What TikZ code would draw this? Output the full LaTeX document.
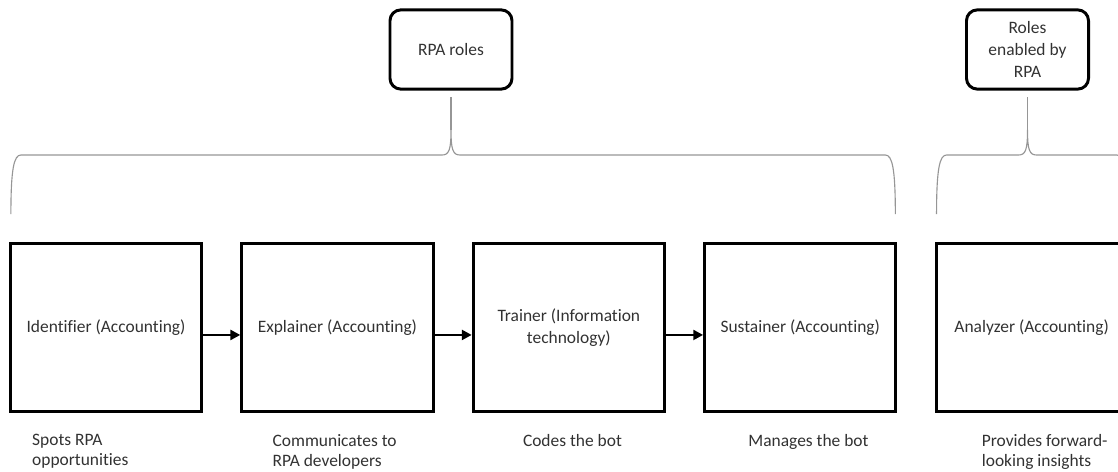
\documentclass[tikz,border=0pt]{standalone}
\usepackage{fontspec}
\setmainfont{Carlito}[Ligatures=NoCommon]
\usepackage{tikz}
\usetikzlibrary{arrows.meta,positioning,calc}
\definecolor{textgray}{RGB}{50,50,50}
\definecolor{bracegray}{RGB}{150,150,150}

% brace from the top of box #1 to the top of box #2, tip under box #3
\newcommand{\rolebrace}[3]{%
  \coordinate (bl) at ($(#1.north west)+(2,-28)$);
  \coordinate (br) at ($(#2.north east)+(-2,-28)$);
  \coordinate (bt) at ($(#3.south)+(0,6)$);
  \coordinate (bh) at ($(bl)+(0,-59)$);
  \coordinate (tm) at (bt |- bh);
  \coordinate (rh) at (br |- bh);
  \draw[brc] (bl) .. controls +(0,-45) and +(-7,0) .. ($(bh)+(10,0)$)
    -- ($(tm)+(-9,0)$) .. controls +(7,0) and +(0,20) .. ($(tm)+(0,-25)$)
    .. controls +(0,20) and +(-7,0) .. ($(tm)+(9,0)$)
    -- ($(rh)+(-10,0)$) .. controls +(7,0) and +(0,-45) .. (br);
  \draw[brc] ($(tm)+(0,-25)$) -- (bt);
}

\begin{document}
\begin{tikzpicture}[
        x=0.025cm,y=-0.025cm,
        node distance=0.93cm,
        font=\fontsize{12.4}{15.5}\selectfont,
        box/.style={draw,line width=2.1pt,minimum width=4.78cm,
                    minimum height=4.2cm,align=center,text=textgray,
                    inner sep=2pt},
        rbox/.style={draw,line width=2.1pt,rounded corners=0.27cm,
                     minimum width=3.05cm,minimum height=1.98cm,
                     align=center,text=textgray},
        arr/.style={-{Triangle[length=7pt,width=7pt]},line width=1.8pt},
        lbl/.style={anchor=north west,align=left,text=textgray,inner sep=0pt,
                    font=\fontsize{12.4}{14.4}\selectfont},
        brc/.style={bracegray,line width=0.8pt},
      ]
        \useasboundingbox (0,0) rectangle (1118,472);
        % role boxes
        \node[box] at (106,327.5) (id){Identifier (Accounting)};
        \node[box,right=of id](ex){Explainer (Accounting)};
        \node[box,right=of ex](tr){Trainer (Information\\technology)};
        \node[box,right=of tr](su){Sustainer (Accounting)};
        \node[box,right=of su](an){Analyzer (Accounting)};
        % arrows
        \draw[arr]([yshift=-5.3pt]id.east)--([yshift=-5.3pt]ex.west);
        \draw[arr]([yshift=-5.3pt]ex.east)--([yshift=-5.3pt]tr.west);
        \draw[arr]([yshift=-5.3pt]tr.east)--([yshift=-5.3pt]su.west);
        % descriptions
        \node[lbl] at ($(id.south west)+(23,21)$) (d1){Spots RPA\\opportunities};
        \node[lbl] at ($(ex.south west)+(32,21)$) (d2){Communicates to\\RPA developers};
        \node[lbl] at ($(tr.south west)+(51,21)$) (d3){Codes the bot};
        \node[lbl] at ($(su.south west)+(45,21)$) (d4){Manages the bot};
        \node[lbl] at ($(an.south west)+(47,21)$) (d5){Provides forward-\\looking insights};
        % headings
        \node[rbox] at (451,49.5) (rr){RPA roles};
        \node[rbox] at (1027.5,49.5) (re){Roles\\enabled by\\RPA};
        \rolebrace{id}{su}{rr}
        \rolebrace{an}{an}{re}
      \end{tikzpicture}
\end{document}
